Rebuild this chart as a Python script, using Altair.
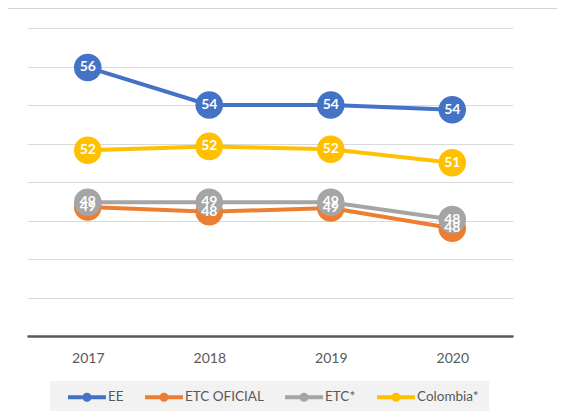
import altair as alt
import pandas as pd

years = ["2017", "2018", "2019", "2020"]
series = ["EE", "ETC OFICIAL", "ETC*", "Colombia*"]
colors = ["#4472C4", "#ED7D31", "#A5A5A5", "#FFC000"]
ee = [55.95, 54.0, 54.0, 53.75]
etc_oficial = [48.7, 48.45, 48.65, 47.6]
etc = [48.95, 48.95, 48.95, 48.05]
colombia = [51.65, 51.85, 51.7, 51.0]

vals = [ee, etc_oficial, etc, colombia]
rows = []
for si, (s, v) in enumerate(zip(series, vals)):
    for y, val in zip(years, v):
        rows.append({"year": y, "series": s, "value": val, "order": si})
df = pd.DataFrame(rows)

FONT = "Lato"
x = alt.X("year:O", scale=alt.Scale(type="point", padding=0.5),
          axis=alt.Axis(title=None, labelAngle=0, ticks=False, labelPadding=15,
                        labelFontSize=14, labelColor="#595959", labelFont=FONT,
                        domainColor="#595959", domainWidth=2.5, grid=False))
y = alt.Y("value:Q", scale=alt.Scale(domain=[42, 58], nice=False, zero=False),
          axis=alt.Axis(title=None, labels=False, ticks=False, domain=False,
                        values=list(range(42, 59, 2)), gridColor="#d9d9d9", gridWidth=1))

legend = alt.Legend(title=None, orient="none", legendX=41, legendY=350,
                    direction="horizontal", padding=0, columnPadding=21,
                    symbolType="M-1,-0.11L1,-0.11L1,0.11L-1,0.11Z M0.24,0A0.24,0.24 0 1,1 -0.24,0A0.24,0.24 0 1,1 0.24,0Z",
                    symbolSize=1444, symbolStrokeWidth=0, labelOffset=2,
                    labelFontSize=13.5, labelColor="#595959", labelFont=FONT)
color = alt.Color("series:N", scale=alt.Scale(domain=series, range=colors),
                  sort=series, legend=legend)

base = alt.Chart(df)

frame = alt.Chart(pd.DataFrame({"k": [0]})).mark_rect(
    fill="transparent", stroke="#d4d4d4", strokeWidth=1, clip=False
).encode(x=alt.value(-19.5), x2=alt.value(620), y=alt.value(-19.5), y2=alt.value(440))

legbg = alt.Chart(pd.DataFrame({"k": [0]})).mark_rect(
    fill="#f2f2f2", clip=False
).encode(x=alt.value(23), x2=alt.value(462), y=alt.value(353), y2=alt.value(385))

lines = base.mark_line(strokeWidth=4).encode(
    x=x, y=y, color=color, detail="series:N", order="order:Q")

points = base.mark_point(filled=True, size=760, opacity=1, shape="circle").encode(
    x=x, y=y, color=color, order="order:Q")

labels = base.mark_text(color="white", fontWeight="bold", fontSize=14, font=FONT,
                        align="center", baseline="middle").encode(
    x=x, y=y, text=alt.Text("value:Q", format=".0f"), order="order:Q")

chart = alt.layer(frame, legbg, lines, points, labels).properties(
    width=486, height=308,
    autosize=alt.AutoSizeParams(type="none"),
    padding={"left": 19, "top": 20, "right": 44, "bottom": 75},
    background="white",
).configure_view(strokeWidth=0)

chart.save("out.html", embed_options={"renderer": "svg", "actions": False})
